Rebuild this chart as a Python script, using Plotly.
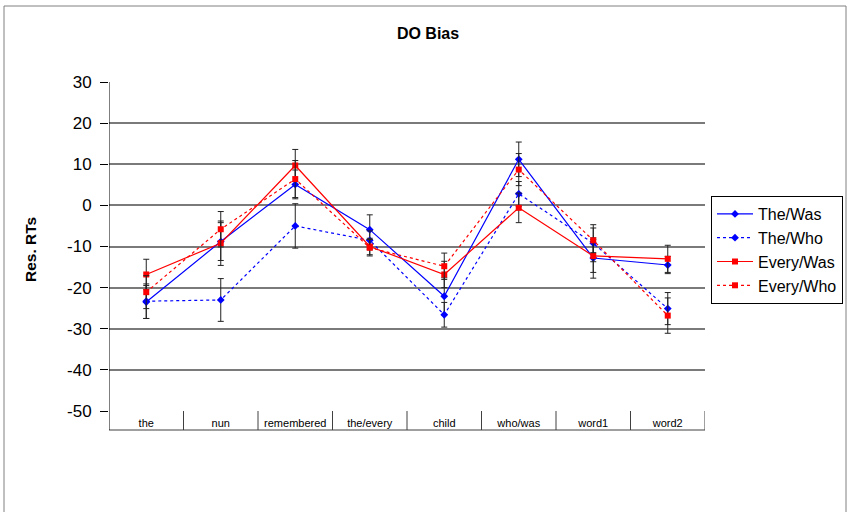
import plotly.graph_objects as go

# Region labels along the x axis
categories = ["the", "nun", "remembered", "the/every", "child", "who/was", "word1", "word2"]

# Residual reading times per condition
the_was = [-23.5, -8.8, 5.1, -5.9, -22.1, 11.2, -12.8, -14.5]
the_who = [-23.3, -23.0, -5.0, -8.5, -26.6, 2.8, -9.2, -25.1]
every_was = [-16.8, -9.2, 9.7, -10.0, -16.8, -0.6, -12.3, -13.0]
every_who = [-21.1, -5.8, 6.4, -10.3, -14.8, 8.7, -8.5, -26.8]

# Standard errors
the_was_err = [4.0, 4.6, 3.5, 3.6, 4.5, 4.2, 4.9, 2.1]
the_who_err = [4.2, 5.2, 5.4, 2.3, 3.0, 3.0, 4.5, 3.9]
every_was_err = [3.7, 5.4, 3.9, 2.0, 3.2, 3.6, 4.0, 3.3]
every_who_err = [4.0, 4.3, 4.5, 2.0, 3.2, 3.9, 3.0, 4.3]

y_ticks = [30, 20, 10, 0, -10, -20, -30, -40, -50]
y_tick_labels = [str(v) for v in y_ticks]

FONT = "Arial, Liberation Sans, sans-serif"
BLUE = "#0000ff"
RED = "#ff0000"

series = [
    ("The/Was", the_was, the_was_err, BLUE, "solid", "diamond", 6),
    ("The/Who", the_who, the_who_err, BLUE, "dot", "diamond", 6),
    ("Every/Was", every_was, every_was_err, RED, "solid", "square", 6),
    ("Every/Who", every_who, every_who_err, RED, "dot", "square", 6),
]

fig = go.Figure()
for name, vals, errs, color, dash, symbol, size in series:
    fig.add_trace(go.Scatter(
        x=categories, y=vals, name=name, mode="lines+markers",
        line=dict(color=color, width=1.2, dash=dash),
        marker=dict(color=color, symbol=symbol, size=size),
        error_y=dict(type="data", array=errs, visible=True,
                     color="#222222", thickness=1, width=3),
    ))

# Plot area spans x 109..705, y 82..411 in pixels
L, R, T, B = 109, 705, 82, 411
W, H = 848, 512
pw, ph = R - L, B - T

def px_x(p):
    return (p - L) / pw

def px_y(p):
    return (B - p) / ph

shapes = []
# category label box under the plot
box_bottom = px_y(430)
shapes.append(dict(type="line", xref="x", yref="paper", x0=-0.5, x1=7.5,
                   y0=box_bottom, y1=box_bottom, line=dict(color="#404040", width=1)))
for i in range(len(categories) + 1):
    xv = i - 0.5
    shapes.append(dict(type="line", xref="x", yref="paper", x0=xv, x1=xv,
                       y0=box_bottom, y1=0 if i else 1,
                       line=dict(color="#404040" if i else "#000000", width=1)))
# outer chart border
shapes.append(dict(type="rect", xref="paper", yref="paper",
                   x0=px_x(4), x1=px_x(846), y0=px_y(530), y1=px_y(6),
                   line=dict(color="#808080", width=1), fillcolor="rgba(0,0,0,0)",
                   layer="below"))

fig.update_layout(
    width=W, height=H,
    margin=dict(l=L, r=W - R, t=T, b=H - B, pad=0, autoexpand=False),
    paper_bgcolor="white", plot_bgcolor="white",
    font=dict(family=FONT, color="black"),
    title=dict(text="<b>DO Bias</b>", x=px_x(428), xref="paper", xanchor="center",
               y=1 - 33 / H, yref="container", yanchor="middle",
               font=dict(size=16, family=FONT, color="black")),
    showlegend=True,
    legend=dict(x=px_x(711), y=px_y(196), xanchor="left", yanchor="top",
                bordercolor="black", borderwidth=1, bgcolor="white",
                font=dict(size=16, family=FONT, color="black"),
                tracegroupgap=0, itemwidth=36),
    shapes=shapes,
    annotations=[dict(text="<b>Res. RTs</b>", xref="paper", yref="paper",
                      x=px_x(30), y=px_y(250), textangle=-90, showarrow=False,
                      xanchor="center", yanchor="middle",
                      font=dict(size=15.5, family=FONT, color="black"))],
)

fig.update_xaxes(
    type="category", range=[-0.5, 7.5], showgrid=False, zeroline=False,
    showline=False, ticks="", tickfont=dict(size=11, family=FONT, color="black"),
    ticklabelstandoff=4,
)
fig.update_yaxes(
    range=[-50, 30], tickvals=y_ticks, ticktext=y_tick_labels,
    showgrid=True, gridcolor="#7a7a7a",
    gridwidth=1.5, zeroline=False, showline=False, ticks="outside", ticklen=8,
    tickcolor="black", tickfont=dict(size=17, family=FONT, color="black"),
    ticklabelstandoff=5,
)

fig.write_html("out.html")
